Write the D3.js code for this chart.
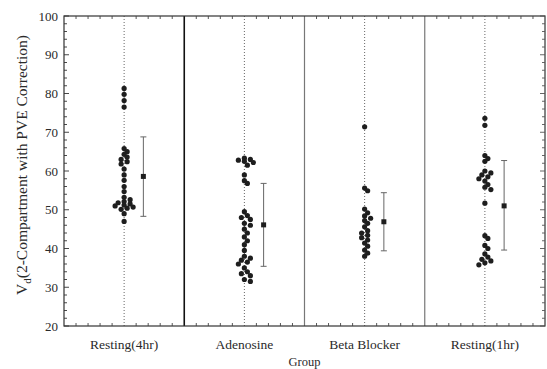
<!DOCTYPE html>
<html>
<head>
<meta charset="utf-8">
<script src="https://cdn.jsdelivr.net/npm/d3@7"></script>
<style>
  body { margin: 0; background: #fff; }
  svg { display: block; }
</style>
</head>
<body>
<div id="chart"></div>
<script>
// Data
const groups = ['Resting(4hr)', 'Adenosine', 'Beta Blocker', 'Resting(1hr)'];

const resting4hr = [81.3, 79.8, 78.2, 76.5, 65.8, 65.0, 64.3, 63.6, 63.0, 62.4, 61.8,
    60.5, 59.0, 57.6, 56.0, 54.7, 53.2, 52.6, 52.1, 51.8, 51.5, 51.2, 51.0, 50.7, 50.4,
    50.1, 49.0, 47.0];
const adenosine = [63.3, 63.0, 62.8, 62.5, 62.2, 61.5, 59.0, 57.5, 56.8, 49.5, 48.5,
    48.0, 47.5, 46.5, 46.0, 45.0, 44.0, 43.0, 42.0, 41.0, 39.5, 38.0, 37.5, 37.0, 36.5,
    36.0, 35.0, 34.0, 33.5, 33.0, 32.0, 31.5];
const betaBlocker = [71.4, 55.6, 54.9, 50.2, 49.2, 48.4, 47.8, 47.2, 46.5, 45.6, 44.6,
    44.0, 43.4, 42.8, 42.2, 41.4, 40.6, 39.6, 38.8, 38.0];
const resting1hr = [73.6, 71.8, 64.0, 63.2, 62.5, 60.0, 59.5, 59.0, 58.5, 58.0, 57.4,
    56.5, 55.8, 55.2, 51.7, 43.3, 42.6, 40.8, 40.0, 38.6, 37.8, 37.2, 36.8, 36.3, 35.8];

const means = [58.6, 46.1, 46.9, 51.0];
const lower = [48.3, 35.4, 39.4, 39.6];
const upper = [68.8, 56.8, 54.4, 62.7];

const yTicks = [20, 30, 40, 50, 60, 70, 80, 90, 100];

const series = [resting4hr, adenosine, betaBlocker, resting1hr];

const W = 547, H = 369;
const margin = { top: 16, right: 2, bottom: 43, left: 64 };

const svg = d3.select('#chart').append('svg')
    .attr('width', W).attr('height', H)
    .style('font-family', '"Liberation Serif", "Times New Roman", serif');

const x = d3.scaleBand().domain(groups).range([margin.left, W - margin.right]).padding(0);
const y = d3.scaleLinear().domain([20, 100]).range([H - margin.bottom, margin.top]);
const bw = x.bandwidth();
const ink = '#1e1e1e';

// dotted centre lines
groups.forEach(gr => {
    const cx = x(gr) + bw / 2;
    svg.append('line')
        .attr('x1', cx).attr('x2', cx)
        .attr('y1', y(100)).attr('y2', y(20))
        .attr('stroke', '#666').attr('stroke-width', 1)
        .attr('stroke-dasharray', '1,2');
});

// group dividers
groups.slice(1).forEach((gr, i) => {
    svg.append('line')
        .attr('x1', x(gr)).attr('x2', x(gr))
        .attr('y1', y(100)).attr('y2', y(20))
        .attr('stroke', i === 0 ? '#111' : '#777')
        .attr('stroke-width', i === 0 ? 1.6 : 1.2);
});

// frame
svg.append('rect')
    .attr('x', margin.left).attr('y', margin.top)
    .attr('width', W - margin.right - margin.left)
    .attr('height', H - margin.bottom - margin.top)
    .attr('fill', 'none').attr('stroke', '#333').attr('stroke-width', 1.2);

// left & right ticks (inward)
const minor = d3.range(20, 101, 2);
minor.forEach(v => {
    const major = v % 10 === 0;
    const len = major ? 5 : 3;
    svg.append('line')
        .attr('x1', margin.left).attr('x2', margin.left + len)
        .attr('y1', y(v)).attr('y2', y(v))
        .attr('stroke', '#333').attr('stroke-width', 0.9);
    svg.append('line')
        .attr('x1', W - margin.right).attr('x2', W - margin.right - len)
        .attr('y1', y(v)).attr('y2', y(v))
        .attr('stroke', '#555').attr('stroke-width', 0.9);
});

// top & bottom ticks inside each band
groups.forEach(gr => {
    d3.range(1, 10).forEach(k => {
        if (k === 5) return;
        const tx = x(gr) + bw * k / 10;
        svg.append('line')
            .attr('x1', tx).attr('x2', tx)
            .attr('y1', y(20)).attr('y2', y(20) - 3)
            .attr('stroke', '#444').attr('stroke-width', 0.9);
        svg.append('line')
            .attr('x1', tx).attr('x2', tx)
            .attr('y1', y(100)).attr('y2', y(100) + 3)
            .attr('stroke', '#444').attr('stroke-width', 0.9);
    });
});

// y tick labels
svg.append('g').selectAll('text')
    .data(yTicks).join('text')
    .attr('x', margin.left - 6)
    .attr('y', d => y(d) + 4.5)
    .attr('text-anchor', 'end')
    .attr('font-size', '13px')
    .attr('fill', '#2a2a2a')
    .text(d => d);

// x labels
svg.append('g').selectAll('text')
    .data(groups).join('text')
    .attr('x', d => x(d) + bw / 2)
    .attr('y', y(20) + 23)
    .attr('text-anchor', 'middle')
    .attr('font-size', '13.5px')
    .attr('fill', '#2a2a2a')
    .text(d => d);

svg.append('text')
    .attr('x', (margin.left + W - margin.right) / 2)
    .attr('y', H - 3)
    .attr('text-anchor', 'middle')
    .attr('font-size', '12.5px')
    .attr('fill', '#2a2a2a')
    .text('Group');

// y axis title with subscript
const yt = svg.append('text')
    .attr('transform', `translate(27,${(margin.top + H - margin.bottom) / 2 - 6}) rotate(-90)`)
    .attr('text-anchor', 'middle')
    .attr('font-size', '15.5px')
    .attr('fill', '#2a2a2a');
yt.append('tspan').text('V');
yt.append('tspan').attr('font-size', '11px').attr('dy', 4).text('d');
yt.append('tspan').attr('dy', -4).text('(2-Compartment with PVE Correction)');

// points: simple dodge so overlapping values spread sideways
const r = 2.6;
series.forEach((vals, gi) => {
    const cx = x(groups[gi]) + bw / 2;
    const placed = [];
    const sorted = vals.slice().sort((a, b) => b - a);
    sorted.forEach(v => {
        const py = y(v);
        const offsets = [0, 3, -3, 6, -6, 9, -9];
        let px = cx;
        for (const o of offsets) {
            const ok = placed.every(p => Math.hypot(p.x - (cx + o), p.y - py) >= r * 1.5);
            if (ok) { px = cx + o; break; }
        }
        placed.push({ x: px, y: py });
    });
    svg.append('g').selectAll('circle')
        .data(placed).join('circle')
        .attr('cx', d => d.x).attr('cy', d => d.y)
        .attr('r', r).attr('fill', ink);
});

// mean +/- error bars
groups.forEach((gr, i) => {
    const ex = x(gr) + bw / 2 + bw * 0.16;
    const eg = svg.append('g').attr('stroke', '#666').attr('stroke-width', 1);
    eg.append('line').attr('x1', ex).attr('x2', ex).attr('y1', y(upper[i])).attr('y2', y(lower[i]));
    eg.append('line').attr('x1', ex - 3).attr('x2', ex + 3).attr('y1', y(upper[i])).attr('y2', y(upper[i]));
    eg.append('line').attr('x1', ex - 3).attr('x2', ex + 3).attr('y1', y(lower[i])).attr('y2', y(lower[i]));
    svg.append('rect')
        .attr('x', ex - 2.5).attr('y', y(means[i]) - 2.5)
        .attr('width', 5).attr('height', 5)
        .attr('fill', ink);
});
</script>
</body>
</html>
